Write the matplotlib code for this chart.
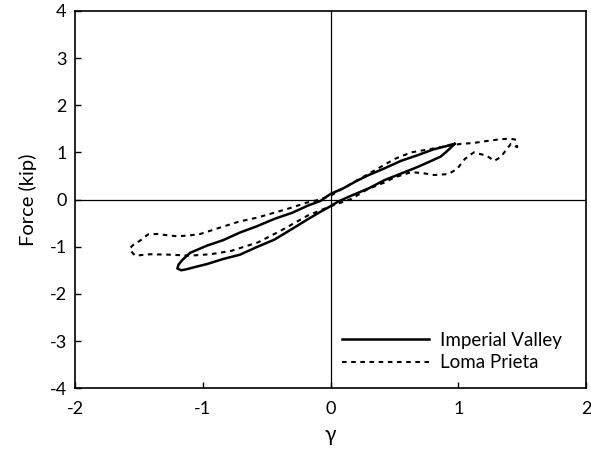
import matplotlib
matplotlib.use("Agg")
import matplotlib.pyplot as plt
import numpy as np

# Imperial Valley loop (solid), traced from right tip along lower branch then upper branch
iv_x = [0.97, 0.94, 0.90, 0.86, 0.78, 0.68, 0.55, 0.42, 0.30, 0.16, 0.06, 0.0, -0.08, -0.18, -0.30,
        -0.44, -0.58, -0.71, -0.84, -0.97, -1.06, -1.13, -1.17, -1.20, -1.19, -1.16, -1.10,
        -0.97, -0.84, -0.71, -0.58, -0.44, -0.30, -0.18, -0.08, 0.0, 0.10, 0.20, 0.29, 0.42,
        0.55, 0.68, 0.80, 0.90, 0.95, 0.97]
iv_y = [1.18, 1.10, 1.00, 0.91, 0.81, 0.69, 0.55, 0.41, 0.24, 0.08, -0.04, -0.14, -0.26, -0.42, -0.62,
        -0.85, -1.01, -1.17, -1.26, -1.37, -1.43, -1.48, -1.50, -1.46, -1.38, -1.28, -1.13,
        -0.98, -0.86, -0.70, -0.57, -0.41, -0.28, -0.13, -0.03, 0.12, 0.24, 0.39, 0.51, 0.66,
        0.82, 0.94, 1.06, 1.13, 1.17, 1.18]

# Loma Prieta loop (dashed): upper branch (right to left) then lower branch (left to right)
lp_up_x = [1.45, 1.40, 1.33, 1.22, 1.12, 1.02, 0.92, 0.80, 0.63, 0.50, 0.30, 0.10, 0.0, -0.10,
           -0.18, -0.34, -0.57, -0.72, -0.86, -1.02, -1.10, -1.20, -1.30, -1.36, -1.43, -1.49,
           -1.54, -1.57]
lp_up_y = [1.27, 1.29, 1.28, 1.24, 1.20, 1.18, 1.14, 1.08, 1.00, 0.86, 0.55, 0.24, 0.08, -0.01,
           -0.06, -0.20, -0.38, -0.47, -0.59, -0.73, -0.76, -0.78, -0.75, -0.73, -0.74, -0.87,
           -0.95, -1.03]
lp_lo_x = [-1.57, -1.56, -1.53, -1.41, -1.25, -1.10, -0.94, -0.78, -0.57, -0.39, -0.18, 0.0,
           0.16, 0.29, 0.42, 0.50, 0.63, 0.72, 0.81, 0.92, 0.99, 1.05, 1.12, 1.22, 1.28, 1.33,
           1.37, 1.41, 1.46, 1.45]
lp_lo_y = [-1.03, -1.10, -1.19, -1.16, -1.17, -1.19, -1.16, -1.09, -0.91, -0.66, -0.34, -0.14,
           0.01, 0.22, 0.36, 0.47, 0.58, 0.56, 0.52, 0.54, 0.65, 0.86, 1.00, 0.93, 0.82, 0.90,
           1.04, 1.18, 1.11, 1.25]

series_labels = ["Imperial Valley", "Loma Prieta"]
x_ticks = [-2, -1, 0, 1, 2]
y_ticks = [-4, -3, -2, -1, 0, 1, 2, 3, 4]

plt.rcParams['font.family'] = ['Lato', 'DejaVu Sans']
plt.rcParams['axes.unicode_minus'] = False

fig = plt.figure(figsize=(5.91, 4.54), dpi=100)
ax = fig.add_axes([0.127, 0.145, 0.865, 0.831])

ax.axhline(0, color='black', lw=0.9, zorder=1)
ax.axvline(0, color='black', lw=0.9, zorder=1)

lp_x = lp_up_x + lp_lo_x
lp_y = lp_up_y + lp_lo_y
ax.plot(iv_x, iv_y, color='black', lw=1.8, label=series_labels[0], zorder=3)
ax.plot(lp_x, lp_y, color='black', lw=1.5, linestyle=(0, (2.2, 2.2)), label=series_labels[1], zorder=2)

ax.set_xlim(-2, 2)
ax.set_ylim(-4, 4)
ax.set_xticks(x_ticks)
ax.set_yticks(y_ticks)
ax.tick_params(direction='in', length=4, width=1, labelsize=13, pad=6)
ax.tick_params(axis='x', pad=9)
for s in ax.spines.values():
    s.set_linewidth(1.2)

ax.set_xlabel('γ', fontsize=15, labelpad=6)
ax.set_ylabel('Force (kip)', fontsize=14.5, labelpad=9)

leg = ax.legend(loc='lower right', bbox_to_anchor=(0.985, 0.0), frameon=False, fontsize=13.5,
                handlelength=4.6, handletextpad=0.6, labelspacing=0.3)

fig.savefig('out.png', dpi=100)
